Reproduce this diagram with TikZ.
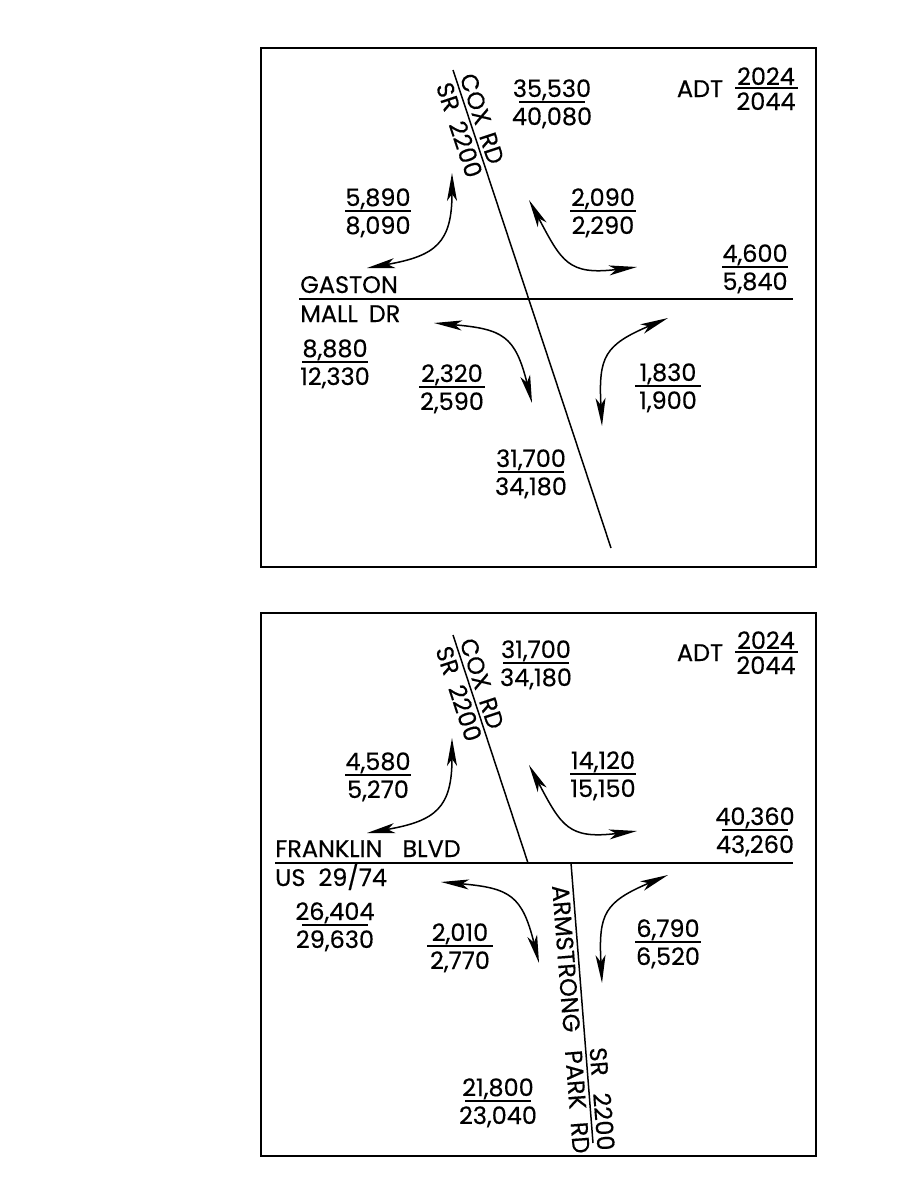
\documentclass[tikz,border=0pt]{standalone}
\usepackage{fontspec}
\setmainfont{Poppins}[FakeBold=0.35]
\usetikzlibrary{arrows.meta}
\newcommand\trf[5]{%
  \node[num] (#1n) at (#2,-#3+5) {#4};
  \node[num] (#1d) at (#2,-#3-23) {#5};
  \draw[fbar] (#2-33,-#3) -- (#2+33,-#3);}
\begin{document}
\begin{tikzpicture}[x=1pt,y=1pt,
  txt/.style={font=\fontsize{24}{28}\selectfont, inner sep=0pt},
  num/.style={txt, anchor=base},
  road/.style={line width=1.5pt},
  frame/.style={line width=1.8pt},
  fbar/.style={line width=1.6pt},
  lbl/.style={txt, inner sep=3pt},
  turn/.style={line width=1.5pt, looseness=1.4,
    {Stealth[length=28pt,width=10pt,inset=7pt]}-{Stealth[length=28pt,width=10pt,inset=7pt]}},
]
\useasboundingbox (0,0) rectangle (920,-1178);

% ===================== TOP PANEL =====================
\draw[frame] (261,-48) rectangle (816,-567);

\coordinate (cox1t) at (453,-70);
\coordinate (cox1b) at (611,-548);
\draw[road] (cox1t) -- (cox1b)
  node[pos=0.110, sloped, above, lbl] (cox1lbl) {COX\hspace{10pt}RD}
  node[pos=0.117, sloped, below, lbl] (sr1lbl) {SR\hspace{12pt}2200};

\coordinate (g1w) at (299,-299);
\coordinate (g1e) at (793,-299);
\draw[road] (g1w) -- (g1e);
\node[txt, anchor=base west] (gaston) at (300,-293) {GASTON};
\node[txt, anchor=base west] (malldr) at (300,-322) {MALL\hspace{11pt}DR};

\node[num] (adt1) at (700,-97) {ADT};
\node[num] (adt1n) at (766,-85) {2024};
\node[num] (adt1d) at (766,-110) {2044};
\draw[fbar] (735,-88) -- (798,-88);

\trf{t1}{552}{102}{35,530}{40,080}
\trf{t3}{378}{211}{5,890}{8,090}
\trf{t4}{603}{211}{2,090}{2,290}
\trf{t5}{755}{267}{4,600}{5,840}
\trf{t6}{335}{362}{8,880}{12,330}
\trf{t7}{452}{387}{2,320}{2,590}
\trf{t8}{531}{472}{31,700}{34,180}
\trf{t9}{668}{386}{1,830}{1,900}

\coordinate (nw1a) at (452,-173); \coordinate (nw1b) at (367,-268);
\coordinate (ne1a) at (529,-200); \coordinate (ne1b) at (637,-267);
\coordinate (sw1a) at (434,-323); \coordinate (sw1b) at (532,-403);
\coordinate (se1a) at (668,-318); \coordinate (se1b) at (602,-426);
\draw[turn] (nw1a) to[out=-90, in=10] (nw1b);
\draw[turn] (ne1a) to[out=-62, in=187] (ne1b);
\draw[turn] (sw1a) to[out=-5, in=104] (sw1b);
\draw[turn] (se1a) to[out=203, in=93] (se1b);

% ===================== BOTTOM PANEL =====================
\draw[frame] (261,-613) rectangle (816,-1156);

\coordinate (cox2t) at (453,-635);
\coordinate (cox2b) at (528,-863);
\draw[road] (cox2t) -- (cox2b)
  node[pos=0.230, sloped, above, lbl] (cox2lbl) {COX\hspace{10pt}RD}
  node[pos=0.240, sloped, below, lbl] (sr2lbl) {SR\hspace{12pt}2200};

\coordinate (f2w) at (275,-863);
\coordinate (f2e) at (793,-863);
\draw[road] (f2w) -- (f2e);
\node[txt, anchor=base west] (franklin) at (275,-857) {FRANKLIN\hspace{20pt}BLVD};
\node[txt, anchor=base west] (us2974) at (275,-886) {US\hspace{13pt}29/74};

\coordinate (arm2t) at (571,-863);
\coordinate (arm2b) at (593,-1143);
\draw[road] (arm2t) -- (arm2b)
  node[pos=0.555, sloped, below, lbl] (armlbl) {ARMSTRONG\hspace{18pt}PARK\hspace{13pt}RD}
  node[pos=0.846, sloped, above, lbl] (sr3lbl) {SR\hspace{17pt}2200};

\node[num] (adt2) at (700,-661) {ADT};
\node[num] (adt2n) at (766,-649) {2024};
\node[num] (adt2d) at (766,-674) {2044};
\draw[fbar] (735,-652) -- (798,-652);

\trf{b1}{536}{663}{31,700}{34,180}
\trf{b3}{378}{775}{4,580}{5,270}
\trf{b4}{603}{774}{14,120}{15,150}
\trf{b5}{755}{830}{40,360}{43,260}
\trf{b6}{335}{925}{26,404}{29,630}
\trf{b7}{460}{946}{2,010}{2,770}
\trf{b8}{498}{1101}{21,800}{23,040}
\trf{b9}{668}{942}{6,790}{6,520}

\coordinate (nw2a) at (452,-738); \coordinate (nw2b) at (367,-833);
\coordinate (ne2a) at (529,-765); \coordinate (ne2b) at (637,-831);
\coordinate (sw2a) at (441,-882); \coordinate (sw2b) at (539,-963);
\coordinate (se2a) at (668,-875); \coordinate (se2b) at (602,-983);
\draw[turn] (nw2a) to[out=-90, in=10] (nw2b);
\draw[turn] (ne2a) to[out=-62, in=187] (ne2b);
\draw[turn] (sw2a) to[out=-5, in=104] (sw2b);
\draw[turn] (se2a) to[out=203, in=93] (se2b);
\end{tikzpicture}
\end{document}
